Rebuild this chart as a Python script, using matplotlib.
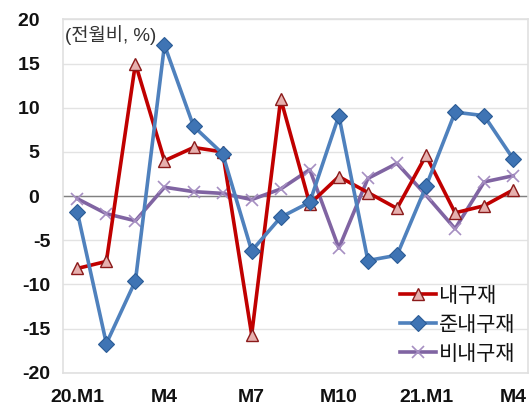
import matplotlib
matplotlib.use("Agg")
import matplotlib.pyplot as plt
import numpy as np

# Monthly change vs previous month (%), 2020.M1 - 2021.M4
months = ["20.M1", "M2", "M3", "M4", "M5", "M6", "M7", "M8", "M9",
          "M10", "M11", "M12", "21.M1", "M2", "M3", "M4"]
durable = [-8.2, -7.4, 15.0, 4.0, 5.5, 5.0, -15.7, 11.0, -0.9,
           2.2, 0.4, -1.4, 4.6, -1.9, -1.1, 0.7]
semi_durable = [-1.8, -16.7, -9.6, 17.1, 7.9, 4.8, -6.2, -2.4, -0.7,
                9.1, -7.3, -6.7, 1.1, 9.5, 9.1, 4.2]
non_durable = [-0.3, -2.0, -2.8, 1.0, 0.5, 0.3, -0.4, 0.8, 3.0,
               -5.9, 2.0, 3.7, 0.1, -3.7, 1.6, 2.3]
series_names = ["내구재", "준내구재", "비내구재"]
tick_idx = [0, 3, 6, 9, 12, 15]
tick_labels = ["20.M1", "M4", "M7", "M10", "21.M1", "M4"]
y_ticks = [20, 15, 10, 5, 0, -5, -10, -15, -20]

FAM = ["Liberation Sans", "Noto Sans CJK KR", "DejaVu Sans"]
plt.rcParams["font.family"] = FAM

fig = plt.figure(figsize=(5.32, 4.07), dpi=100)
ax = fig.add_axes([0.118, 0.0843, 0.874, 0.868])

x = np.arange(len(months))

ax.plot(x, durable, color="#C00000", lw=2.6, marker="^", ms=8.5,
        mfc="#E6B0AE", mec="#8B1A1A", mew=1.0, label=series_names[0], zorder=3)
ax.plot(x, semi_durable, color="#4F81BD", lw=2.6, marker="D", ms=8,
        mfc="#3F74B4", mec="#2B5C96", mew=0.8, label=series_names[1], zorder=4)
ax.plot(x, non_durable, color="#8064A2", lw=2.6, marker="x", ms=8,
        mec="#A68FC2", mew=1.2, label=series_names[2], zorder=2)

ax.axhline(0, color="#808080", lw=1.0, zorder=1)

ax.set_xlim(-0.5, len(months) - 0.5)
ax.set_ylim(-20, 20)
ax.set_yticks(y_ticks)
# positive values carry a trailing figure space, as in the number format
ax.set_yticklabels([f"{v}" if v < 0 else f"{v}\u2007" for v in y_ticks])
ax.set_xticks(tick_idx)
ax.set_xticklabels(tick_labels)
ax.tick_params(axis="both", length=0, labelsize=14, colors="#111111")
ax.tick_params(axis="x", pad=11.5)
ax.tick_params(axis="y", pad=9)
for lab in ax.get_xticklabels() + ax.get_yticklabels():
    lab.set_fontweight("bold")

ax.grid(axis="y", color="#E3E3E3", lw=1.0, zorder=0)
ax.set_axisbelow(True)
for s in ax.spines.values():
    s.set_color("#E0E0E0")
    s.set_linewidth(1.2)

ax.text(0.004, 0.985, "(전월비, %)", transform=ax.transAxes, ha="left", va="top",
        fontsize=13.5, color="#333333", family=FAM, fontweight="medium")

leg = ax.legend(loc="lower right", bbox_to_anchor=(1.0, -0.01), frameon=False,
                prop={"family": FAM, "size": 15, "weight": "medium"},
                handlelength=1.75, handletextpad=0.12,
                labelspacing=0.48, borderaxespad=0.2)
for t in leg.get_texts():
    t.set_color("#111111")

fig.savefig("out.png", dpi=100)
